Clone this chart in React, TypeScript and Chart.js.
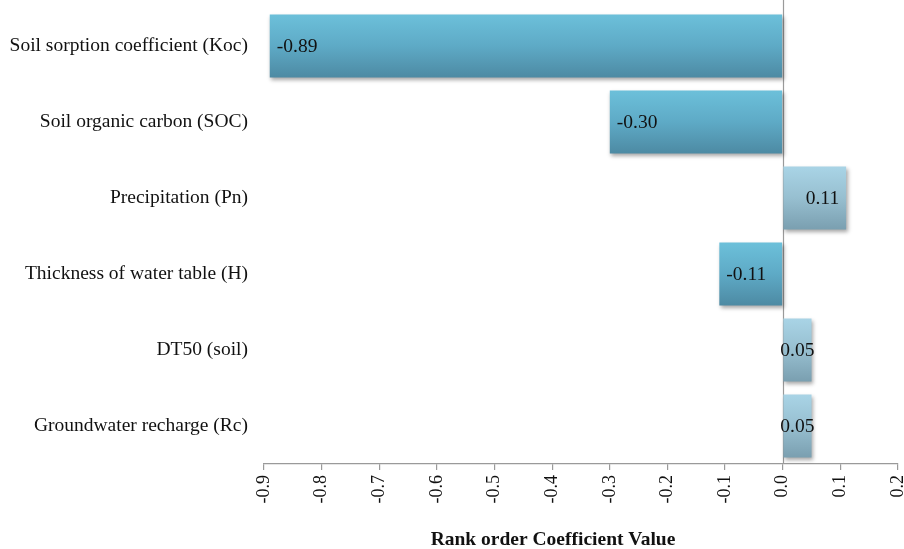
import React, { useEffect, useRef } from "react";
import { Chart, registerables } from "chart.js";

Chart.register(...registerables);

const categories = [
  "Soil sorption coefficient (Koc)",
  "Soil organic carbon (SOC)",
  "Precipitation (Pn)",
  "Thickness of water table (H)",
  "DT50 (soil)",
  "Groundwater recharge (Rc)",
];
const values = [-0.89, -0.3, 0.11, -0.11, 0.05, 0.05];
const xMin = -0.9;
const xMax = 0.2;
const xStep = 0.1;
const xTitle = "Rank order Coefficient Value";

const BAR_PCT = 0.83;
const SERIF = "'Liberation Serif', 'Times New Roman', serif";

export default function App() {
  const ref = useRef<HTMLCanvasElement | null>(null);

  useEffect(() => {
    const canvas = ref.current;
    if (!canvas) return;

    const zeroLinePlugin = {
      id: "zeroLine",
      beforeDatasetsDraw(chart: any) {
        const ctx = chart.ctx;
        const x = Math.round(chart.scales.x.getPixelForValue(0)) + 0.5;
        ctx.save();
        ctx.strokeStyle = "#9a9a9a";
        ctx.lineWidth = 1.2;
        ctx.beginPath();
        ctx.moveTo(x, 0);
        ctx.lineTo(x, chart.chartArea.bottom);
        ctx.stroke();
        ctx.restore();
      },
    };

    const shadowPlugin = {
      id: "barShadow",
      beforeDatasetDraw(chart: any) {
        const ctx = chart.ctx;
        ctx.save();
        ctx.shadowColor = "rgba(0,0,0,0.35)";
        ctx.shadowBlur = 4;
        ctx.shadowOffsetX = 1.5;
        ctx.shadowOffsetY = 2.5;
      },
      afterDatasetDraw(chart: any) {
        chart.ctx.restore();
      },
    };

    const labelPlugin = {
      id: "valueLabels",
      afterDatasetsDraw(chart: any) {
        const ctx = chart.ctx;
        const meta = chart.getDatasetMeta(0);
        ctx.save();
        ctx.font = `19.5px ${SERIF}`;
        ctx.fillStyle = "#111";
        ctx.textBaseline = "middle";
        meta.data.forEach((el: any, i: number) => {
          const v = values[i];
          const txt = v.toFixed(2);
          const w = ctx.measureText(txt).width;
          const barW = Math.abs(el.x - el.base);
          const pad = 7;
          let x: number;
          if (w + 2 * pad > barW) {
            ctx.textAlign = "center";
            x = (el.x + el.base) / 2;
          } else if (v < 0) {
            ctx.textAlign = "left";
            x = el.x + pad;
          } else {
            ctx.textAlign = "right";
            x = el.x - pad;
          }
          ctx.fillText(txt, x, el.y + 1);
        });
        ctx.restore();
      },
    };

    const titlePlugin = {
      id: "axisTitle",
      afterDraw(chart: any) {
        const ctx = chart.ctx;
        ctx.save();
        ctx.font = `bold 19.5px ${SERIF}`;
        ctx.fillStyle = "#111";
        ctx.textAlign = "center";
        ctx.textBaseline = "middle";
        ctx.fillText(xTitle, 553, 540);
        ctx.restore();
      },
    };

    const bg = (c: any) => {
      const chart = c.chart;
      const ys = chart.scales && chart.scales.y;
      const i = c.dataIndex;
      const v = values[i] ?? -1;
      if (!chart.chartArea || !ys || i === undefined) {
        return v < 0 ? "#5ca8c4" : "#92bccd";
      }
      const center = ys.getPixelForValue(i);
      const half = (ys.height / categories.length) * BAR_PCT / 2;
      const g = chart.ctx.createLinearGradient(0, center - half, 0, center + half);
      if (v < 0) {
        g.addColorStop(0, "#6cc0da");
        g.addColorStop(0.5, "#5eaac6");
        g.addColorStop(1, "#4d8aa3");
      } else {
        g.addColorStop(0, "#a9d4e6");
        g.addColorStop(0.5, "#97bfd0");
        g.addColorStop(1, "#7a9fb0");
      }
      return g;
    };

    const zeroPad = (s: any) => {
      s.paddingTop = 0;
      s.paddingBottom = 0;
      s.paddingLeft = 0;
      s.paddingRight = 0;
    };

    const chart = new Chart(canvas, {
      type: "bar",
      data: {
        labels: categories,
        datasets: [
          {
            data: values,
            backgroundColor: bg,
            borderWidth: 0,
            barPercentage: BAR_PCT,
            categoryPercentage: 1,
          },
        ],
      },
      plugins: [zeroLinePlugin, shadowPlugin, labelPlugin, titlePlugin],
      options: {
        indexAxis: "y",
        responsive: false,
        animation: false,
        layout: { padding: { top: 8, right: 6, left: 0, bottom: 0 } },
        plugins: {
          legend: { display: false },
          tooltip: { enabled: false },
        },
        scales: {
          x: {
            type: "linear",
            min: xMin,
            max: xMax,
            afterFit: (s: any) => {
              s.height = 85;
              zeroPad(s);
            },
            ticks: {
              stepSize: xStep,
              minRotation: 90,
              maxRotation: 90,
              padding: 5,
              color: "#111",
              font: { family: SERIF, size: 18 },
              callback: (v: any) => Number(v).toFixed(1),
            },
            grid: {
              drawTicks: true,
              tickLength: 6,
              tickColor: "#9a9a9a",
              color: "rgba(0,0,0,0)",
              lineWidth: 1.2,
            },
            border: { display: true, color: "#9a9a9a", width: 1.2 },
            title: { display: false },
          },
          y: {
            type: "category",
            afterFit: (s: any) => {
              s.width = 264;
              zeroPad(s);
            },
            ticks: {
              padding: 16,
              color: "#111",
              font: { family: SERIF, size: 19.5 },
            },
            grid: { display: false, drawTicks: false },
            border: { display: false },
          },
        },
      },
    } as any);

    return () => chart.destroy();
  }, []);

  return (
    <div style={{ position: "fixed", left: 0, top: 0, width: 904, height: 549, background: "#fff" }}>
      <canvas ref={ref} width={904} height={549} style={{ display: "block" }} />
    </div>
  );
}
